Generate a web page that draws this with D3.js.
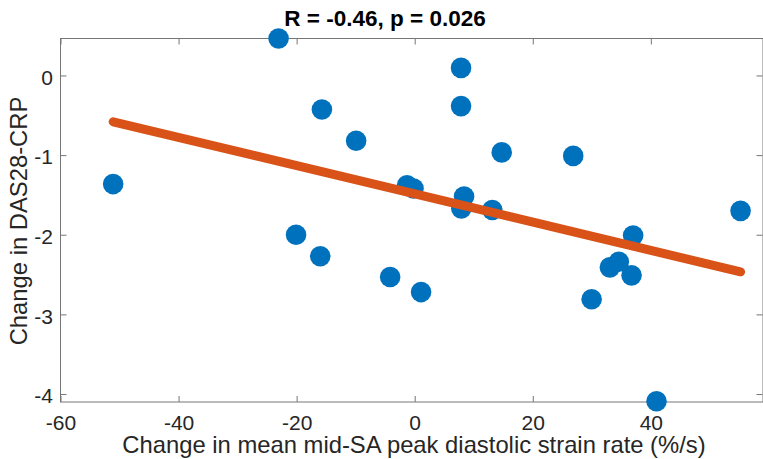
<!DOCTYPE html>
<html>
<head>
<meta charset="utf-8">
<script src="https://cdn.jsdelivr.net/npm/d3@7/dist/d3.min.js"></script>
<style>
  html, body { margin: 0; padding: 0; background: #fff; }
  svg { display: block; font-family: "Liberation Sans", Arial, Helvetica, sans-serif; }
</style>
</head>
<body>
<svg id="chart" width="763" height="459"></svg>
<script>
// Change in mean mid-SA peak diastolic strain rate (%/s) per patient
const strainRateChange = [
  -51.08, -23.06, -20.1, -16.0, -15.72, -9.92, -4.16, -1.3, -0.2, 1.08,
  7.85, 7.85, 7.9, 8.36, 13.15, 14.74, 26.85, 29.97, 33.06, 34.58,
  36.73, 37.0, 40.96, 55.2
];
// Change in DAS28-CRP for the same patients
const das28Change = [
  -1.364, 0.464, -2.0, -2.27, -0.427, -0.82, -2.53, -1.38, -1.42, -2.72,
  0.095, -0.385, -1.67, -1.52, -1.69, -0.966, -1.01, -2.81, -2.41, -2.34,
  -2.51, -2.01, -4.09, -1.70
];
const xTicks = [-60, -40, -20, 0, 20, 40];
const yTicks = [-4, -3, -2, -1, 0];
const titleText = "R = -0.46, p = 0.026";
const xLabel = "Change in mean mid-SA peak diastolic strain rate (%/s)";
const yLabel = "Change in DAS28-CRP";

const svg = d3.select("#chart");
const plotLeft = 60.5, plotRight = 763, plotTop = 38.5, plotBottom = 402;

const x = d3.scaleLinear().domain([-60, 59]).range([plotLeft, plotRight]);
const y = d3.scaleLinear().domain([-4.1, 0.464]).range([plotBottom, plotTop]);

const axisColor = "#767676";
const textColor = "#262626";
const tickLen = 6;

// Axes box
svg.append("rect")
  .attr("x", plotLeft).attr("y", plotTop)
  .attr("width", plotRight - plotLeft).attr("height", plotBottom - plotTop)
  .attr("fill", "none").attr("stroke", axisColor).attr("stroke-width", 1);

// x ticks (bottom and top, pointing inward)
const xAxisB = d3.axisBottom(x).tickValues(xTicks).tickSize(-tickLen).tickFormat("");
const gxb = svg.append("g").attr("transform", `translate(0,${plotBottom})`).call(xAxisB);
gxb.select(".domain").remove();
gxb.selectAll(".tick line").attr("stroke", axisColor);
gxb.selectAll(".tick").append("text")
  .attr("y", 27.5)
  .attr("text-anchor", "middle")
  .attr("fill", textColor)
  .style("font-size", "21px")
  .text(d => String(d));

const xAxisT = d3.axisTop(x).tickValues(xTicks).tickSize(-tickLen).tickFormat("");
const gxt = svg.append("g").attr("transform", `translate(0,${plotTop})`).call(xAxisT);
gxt.select(".domain").remove();
gxt.selectAll(".tick line").attr("stroke", axisColor);

// y ticks (left and right, pointing inward)
const yAxisL = d3.axisLeft(y).tickValues(yTicks).tickSize(-tickLen).tickFormat("");
const gyl = svg.append("g").attr("transform", `translate(${plotLeft},0)`).call(yAxisL);
gyl.select(".domain").remove();
gyl.selectAll(".tick line").attr("stroke", axisColor);
gyl.selectAll(".tick").append("text")
  .attr("x", -7.5)
  .attr("dy", "0.42em")
  .attr("text-anchor", "end")
  .attr("fill", textColor)
  .style("font-size", "21px")
  .text(d => String(d));

const yAxisR = d3.axisRight(y).tickValues(yTicks).tickSize(-tickLen).tickFormat("");
const gyr = svg.append("g").attr("transform", `translate(${plotRight - 0.5},0)`).call(yAxisR);
gyr.select(".domain").remove();
gyr.selectAll(".tick line").attr("stroke", axisColor);

// Least-squares fit over the observed range
const pts = strainRateChange.map((v, i) => [v, das28Change[i]]);
const mx = d3.mean(strainRateChange), my = d3.mean(das28Change);
const sxy = d3.sum(pts, p => (p[0] - mx) * (p[1] - my));
const sxx = d3.sum(pts, p => (p[0] - mx) ** 2);
const slope = sxy / sxx, intercept = my - slope * mx;
const [xmin, xmax] = d3.extent(strainRateChange);
const fitLine = [[xmin, intercept + slope * xmin], [xmax, intercept + slope * xmax]];

// Scatter points
svg.append("g").selectAll("circle")
  .data(pts)
  .join("circle")
  .attr("cx", d => x(d[0]))
  .attr("cy", d => y(d[1]))
  .attr("r", 10.3)
  .attr("fill", "#0072BD");

// Regression line
svg.append("path")
  .datum(fitLine)
  .attr("d", d3.line().x(d => x(d[0])).y(d => y(d[1])))
  .attr("fill", "none")
  .attr("stroke", "#D95319")
  .attr("stroke-width", 9)
  .attr("stroke-linecap", "round");

// Title
svg.append("text")
  .attr("x", 385).attr("y", 26)
  .attr("text-anchor", "middle")
  .attr("fill", "#000")
  .style("font-size", "22.5px")
  .style("font-weight", "bold")
  .text(titleText);

// Axis labels
svg.append("text")
  .attr("x", 414).attr("y", 453)
  .attr("text-anchor", "middle")
  .attr("fill", textColor)
  .style("font-size", "23.8px")
  .text(xLabel);

svg.append("text")
  .attr("transform", `translate(27,221) rotate(-90)`)
  .attr("text-anchor", "middle")
  .attr("fill", textColor)
  .style("font-size", "23.8px")
  .text(yLabel);
</script>
</body>
</html>
